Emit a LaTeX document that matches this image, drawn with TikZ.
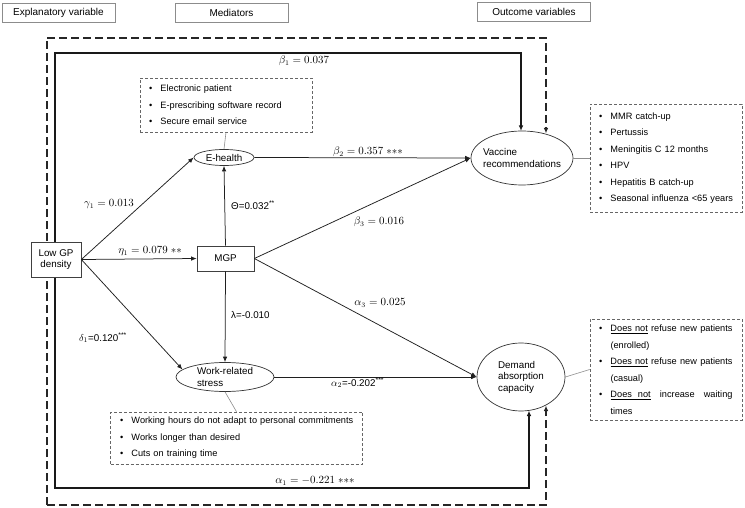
\documentclass[tikz,border=0pt]{standalone}
\usepackage{fontspec}
\setmainfont{Liberation Sans}
\usetikzlibrary{arrows.meta,shapes.geometric,backgrounds}
\newcommand\itm[1]{\mbox{\makebox[11.5pt][l]{\textbullet}#1}}
\newcommand\dn{\underline{Does\ not}}
\begin{document}
\begin{tikzpicture}[x=1pt,y=-1pt,
  every node/.style={inner sep=0pt},
  head/.style={draw=black!45, line width=0.6pt, minimum width=113pt, minimum height=19pt, font=\fontsize{10}{12}\selectfont},
  rbox/.style={draw=black!75, fill=white, line width=0.7pt, font=\fontsize{9.8}{11.3}\selectfont, align=center},
  ell/.style={ellipse, draw=black!80, fill=white, line width=0.7pt},
  etext/.style={font=\fontsize{9.8}{11.5}\selectfont},
  listbox/.style={draw=black!60, dash pattern=on 3pt off 2pt, line width=0.6pt, align=left, inner xsep=9pt, font=\fontsize{9.2}{16.5}\selectfont},
  arr/.style={-{Latex[length=5.5pt,width=4.5pt]}, line width=0.75pt, draw=black!88},
  link/.style={draw=black!45, line width=0.6pt},
  outer/.style={line width=1.5pt, draw=black!85, dash pattern=on 8pt off 4pt},
  inner/.style={line width=1.2pt, draw=black!90},
  lbl/.style={font=\fontsize{10.5}{12}\selectfont},
  tlbl/.style={font=\fontsize{9.8}{12}\selectfont, anchor=west}
]
\useasboundingbox (0,0) rectangle (745,508);

% headers
\node[head] (h1) at (58.5,12.5) {Explanatory variable};
\node[head] (h2) at (231.5,12.5) {Mediators};
\node[head] (h3) at (534,12) {Outcome variables};

% main nodes
\node[rbox, minimum width=50pt, minimum height=35pt] (low) at (56,259.5) {Low GP\\density};
\node[rbox, minimum width=57pt, minimum height=25pt] (mgp) at (225.5,258.5) {MGP};
\node[ell, minimum width=60pt, minimum height=16pt] (eh) at (224,157.5) {};
\node[etext] at (eh) {E-health};
\node[ell, minimum width=98pt, minimum height=29pt] (ws) at (225,377) {};
\node[etext, align=left] at (ws) {Work-related\\stress};
\node[ell, minimum width=102pt, minimum height=54pt] (vac) at (522,158) {};
\node[etext, align=left] at (vac) {Vaccine\\recommendations};
\node[ell, minimum width=88pt, minimum height=68pt] (dem) at (521,377) {};
\node[etext, align=left] at (dem) {Demand\\absorption\\capacity};

% list boxes
\node[listbox, minimum width=172pt, minimum height=54pt, text width=154pt] (ebox) at (226,105)
  {\itm{Electronic patient}\\\itm{E-prescribing software record}\\\itm{Secure email service}};
\node[listbox, minimum width=152pt, minimum height=108pt, text width=134pt] (vbox) at (666,158)
  {\itm{MMR catch-up}\\\itm{Pertussis}\\\itm{Meningitis C 12 months}\\\itm{HPV}\\\itm{Hepatitis B catch-up}\\\itm{Seasonal influenza <65 years}};
\node[listbox, minimum width=152pt, minimum height=101pt, text width=134pt] (dbox) at (666,369.5)
  {\itm{\makebox[122pt][l]{\dn{}\hfill refuse\hfill new\hfill patients}}\\\hspace*{11.5pt}(enrolled)\\\itm{\makebox[122pt][l]{\dn{}\hfill refuse\hfill new\hfill patients}}\\\hspace*{11.5pt}(casual)\\\itm{\makebox[122pt][l]{\underline{Does\hspace{6pt}not}\hfill increase\hfill waiting}}\\\hspace*{11.5pt}times};
\node[listbox, minimum width=251pt, minimum height=52pt, text width=233pt, inner xsep=9.5pt] (sbox) at (236.5,438)
  {\itm{Working hours do not adapt to personal commitments}\\\itm{Works longer than desired}\\\itm{Cuts on training time}};

% links to list boxes
\draw[link] (ebox.south) -- (eh.north);
\draw[link] (vac.east) -- (vbox.west);
\draw[link] (dem.east) -- (dbox.west);
\draw[link] (ws.south) -- (sbox.north);

% frames (background)
\coordinate (otl) at (47,38);
\coordinate (otr) at (546,38);
\coordinate (obl) at (47,505);
\coordinate (obr) at (546,505);
\coordinate (vacD) at (546,133.5);
\coordinate (demD) at (546,405.5);
\coordinate (itl) at (55,53);
\coordinate (itr) at (521,53);
\coordinate (ibl) at (55,488);
\coordinate (ibr) at (529,488);
\coordinate (vacS) at (521,131);
\coordinate (demS) at (529,410.5);
\begin{pgfonlayer}{background}
\draw[outer] (obl) -- (otl);
\draw[outer, -{Latex[length=5.5pt,width=4.5pt]}] (otl) -- (otr) -- (vacD);
\draw[outer, -{Latex[length=5.5pt,width=4.5pt]}] (obl) -- (obr) -- (demD);
\draw[inner, -{Latex[length=5.5pt,width=4.5pt]}] (ibl) -- (itl) -- (itr) -- (vacS);
\draw[inner, -{Latex[length=5.5pt,width=4.5pt]}] (itl) -- (ibl) -- (ibr) -- (demS);
\end{pgfonlayer}

% arrows
\draw[arr] (low.east) -- (eh.west);
\draw[arr] (low.east) -- (mgp.west);
\draw[arr] (low.east) -- (ws.170);
\draw[arr] (mgp.north) -- (eh.south);
\draw[arr] (mgp.south) -- (ws.north);
\draw[arr] (eh.east) -- (vac.west);
\draw[arr] (mgp.east) -- (vac.west);
\draw[arr] (mgp.east) -- (dem.west);
\draw[arr] (ws.east) -- (dem.west);

% labels
\node[lbl] (l1) at (304,61) {$\beta_1 = 0.037$};
\node[lbl] (l2) at (368,152) {$\beta_2 = 0.357\;{\ast}{\ast}{\ast}$};
\node[lbl] (l3) at (109,204) {$\gamma_1 = 0.013$};
\node[lbl] (l4) at (150,251) {$\eta_1 = 0.079\;{\ast}{\ast}$};
\node[tlbl] (l5) at (231,205) {Θ=0.032\textsuperscript{**}};
\node[lbl] (l6) at (379,222) {$\beta_3 = 0.016$};
\node[lbl] (l7) at (380,303) {$\alpha_3 = 0.025$};
\node[tlbl] (l8) at (231,315) {λ=-0.010};
\node[tlbl] (l9) at (79,338) {$\delta_1$=0.120\textsuperscript{***}};
\node[tlbl] (l10) at (331,383) {$\alpha_2$=-0.202\textsuperscript{***}};
\node[lbl] (l11) at (315,481) {$\alpha_1 = -0.221\;{\ast}{\ast}{\ast}$};
\end{tikzpicture}
\end{document}
